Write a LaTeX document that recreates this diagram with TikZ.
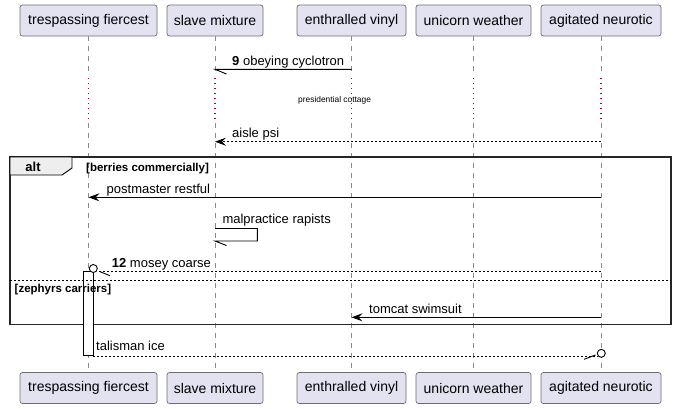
\documentclass[tikz,border=0pt]{standalone}
\usepackage{fontspec}
\setmainfont{Liberation Sans}
\usetikzlibrary{arrows.meta,calc}
\definecolor{partfill}{HTML}{E2E2F0}
\definecolor{partborder}{HTML}{6E6E6E}
\definecolor{lifegray}{HTML}{8A8A8A}
\definecolor{delayred}{HTML}{A80036}
\definecolor{tabfill}{HTML}{EEEEEE}
\tikzset{
  part/.style={draw=partborder, fill=partfill, rounded corners=2.5pt, minimum height=31pt, inner sep=0pt, line width=0.7pt, font=\fontsize{14}{16}\selectfont},
  lifeline/.style={draw=lifegray, dash pattern=on 5pt off 5pt, line width=0.8pt},
  delayline/.style={draw=delayred, dash pattern=on 1.2pt off 3.8pt, line width=1.2pt},
  msg/.style={line width=0.9pt, draw=black},
  dmsg/.style={msg, dash pattern=on 2pt off 2pt},
  fhead/.style={-{Stealth[length=11pt,width=8pt,inset=4pt]}},
  lbl/.style={anchor=base west, inner sep=0pt, font=\fontsize{13}{15}\selectfont},
  guard/.style={anchor=base west, inner sep=0pt, font=\fontsize{11.5}{13}\selectfont\bfseries},
  endcirc/.style={circle, draw=black, line width=0.9pt, fill=white, minimum size=8pt, inner sep=0pt}
}
\begin{document}
\begin{tikzpicture}[x=1pt,y=-1pt]
\useasboundingbox (0,0) rectangle (677,408);
% participants
\node[part, minimum width=137pt] (tfT) at (88.5,20.5) {trespassing fiercest};
\node[part, minimum width=96pt] (smT) at (215,20.5) {slave mixture};
\node[part, minimum width=109pt] (evT) at (351.5,20.5) {enthralled vinyl};
\node[part, minimum width=115pt] (uwT) at (473.5,20.5) {unicorn weather};
\node[part, minimum width=120pt] (agT) at (601,20.5) {agitated neurotic};
\node[part, minimum width=137pt] (tfB) at (88.5,388) {trespassing fiercest};
\node[part, minimum width=96pt] (smB) at (215,388) {slave mixture};
\node[part, minimum width=109pt] (evB) at (351.5,388) {enthralled vinyl};
\node[part, minimum width=115pt] (uwB) at (473.5,388) {unicorn weather};
\node[part, minimum width=120pt] (agB) at (601,388) {agitated neurotic};
% lifelines
\foreach \t/\b in {tfT/tfB,smT/smB,evT/evB,uwT/uwB,agT/agB}{
  \draw[lifeline] (\t.south) -- (\t.south |- 0,75);
  \draw[delayline] (\t.south |- 0,78) -- (\t.south |- 0,121);
  \draw[lifeline] (\t.south |- 0,123) -- (\b.north);
}
% message 9
\draw[msg] (evT.south |- 0,69.3) -- (smT.south |- 0,69.3) coordinate (m9) -- ++(11.5,4.7);
\node[lbl] (l9) at (232,65.5) {\textbf{9} obeying cyclotron};
% delay
\node[inner sep=0pt, font=\fontsize{8.4}{10}\selectfont] (delay) at (334.6,100) {presidential cottage};
% aisle psi
\draw[dmsg, fhead] (agT.south |- 0,141.7) -- (smT.south |- 0,141.7);
\node[lbl] (lap) at (232,137.5) {aisle psi};
% alt frame
\draw[line width=1.5pt, draw=black!85] (10,157) rectangle (671,324.5);
\draw[fill=tabfill, line width=0.9pt] (10,157) -- (72,157) -- (72,168) -- (62,175) -- (10,175) -- cycle;
\node[inner sep=0pt, font=\fontsize{13}{15}\selectfont\bfseries] (alt) at (33,166.5) {alt};
\node[guard] (g1) at (86,171) {[berries commercially]};
% postmaster restful
\draw[msg, fhead] (agT.south |- 0,197.3) -- (tfT.south |- 0,197.3);
\node[lbl] (lpr) at (106.5,193) {postmaster restful};
% self message
\draw[msg] (smT.south |- 0,228.5) -- (257.3,228.5) -- (257.3,241) -- (smT.south |- 0,241) -- ++(11.5,4.5);
\node[lbl] (lmr) at (222.3,223.5) {malpractice rapists};
% activation bar
\draw[fill=white, line width=0.9pt] (83.3,271.7) rectangle (93.3,355) coordinate (actbr);
\node[endcirc] (c1) at (93.3,268.5) {};
\draw[dmsg] (agT.south |- 0,271) -- ($(c1.east |- 0,271)+(1,0)$);
\draw[msg] ($(c1)+(6.7,3.2)$) -- ++(10,4);
\node[lbl] (lmc) at (111.7,267.5) {\textbf{12} mosey coarse};
% else
\draw[line width=0.8pt, dash pattern=on 2pt off 2pt] (10,280) -- (671,280);
\node[guard] (g2) at (14.5,292.3) {[zephyrs carriers]};
% tomcat swimsuit
\draw[msg, fhead] (agT.south |- 0,317.3) -- (evT.south |- 0,317.3);
\node[lbl] (lts) at (369,313) {tomcat swimsuit};
% talisman ice
\node[endcirc] (c2) at (601.3,353.3) {};
\draw[dmsg] (actbr |- 0,356) -- (597.5,356);
\draw[msg] ($(c2)+(-5.8,1.7)$) -- ++(-11.5,4.3);
\node[lbl] (lti) at (96,350) {talisman ice};
\end{tikzpicture}
\end{document}
